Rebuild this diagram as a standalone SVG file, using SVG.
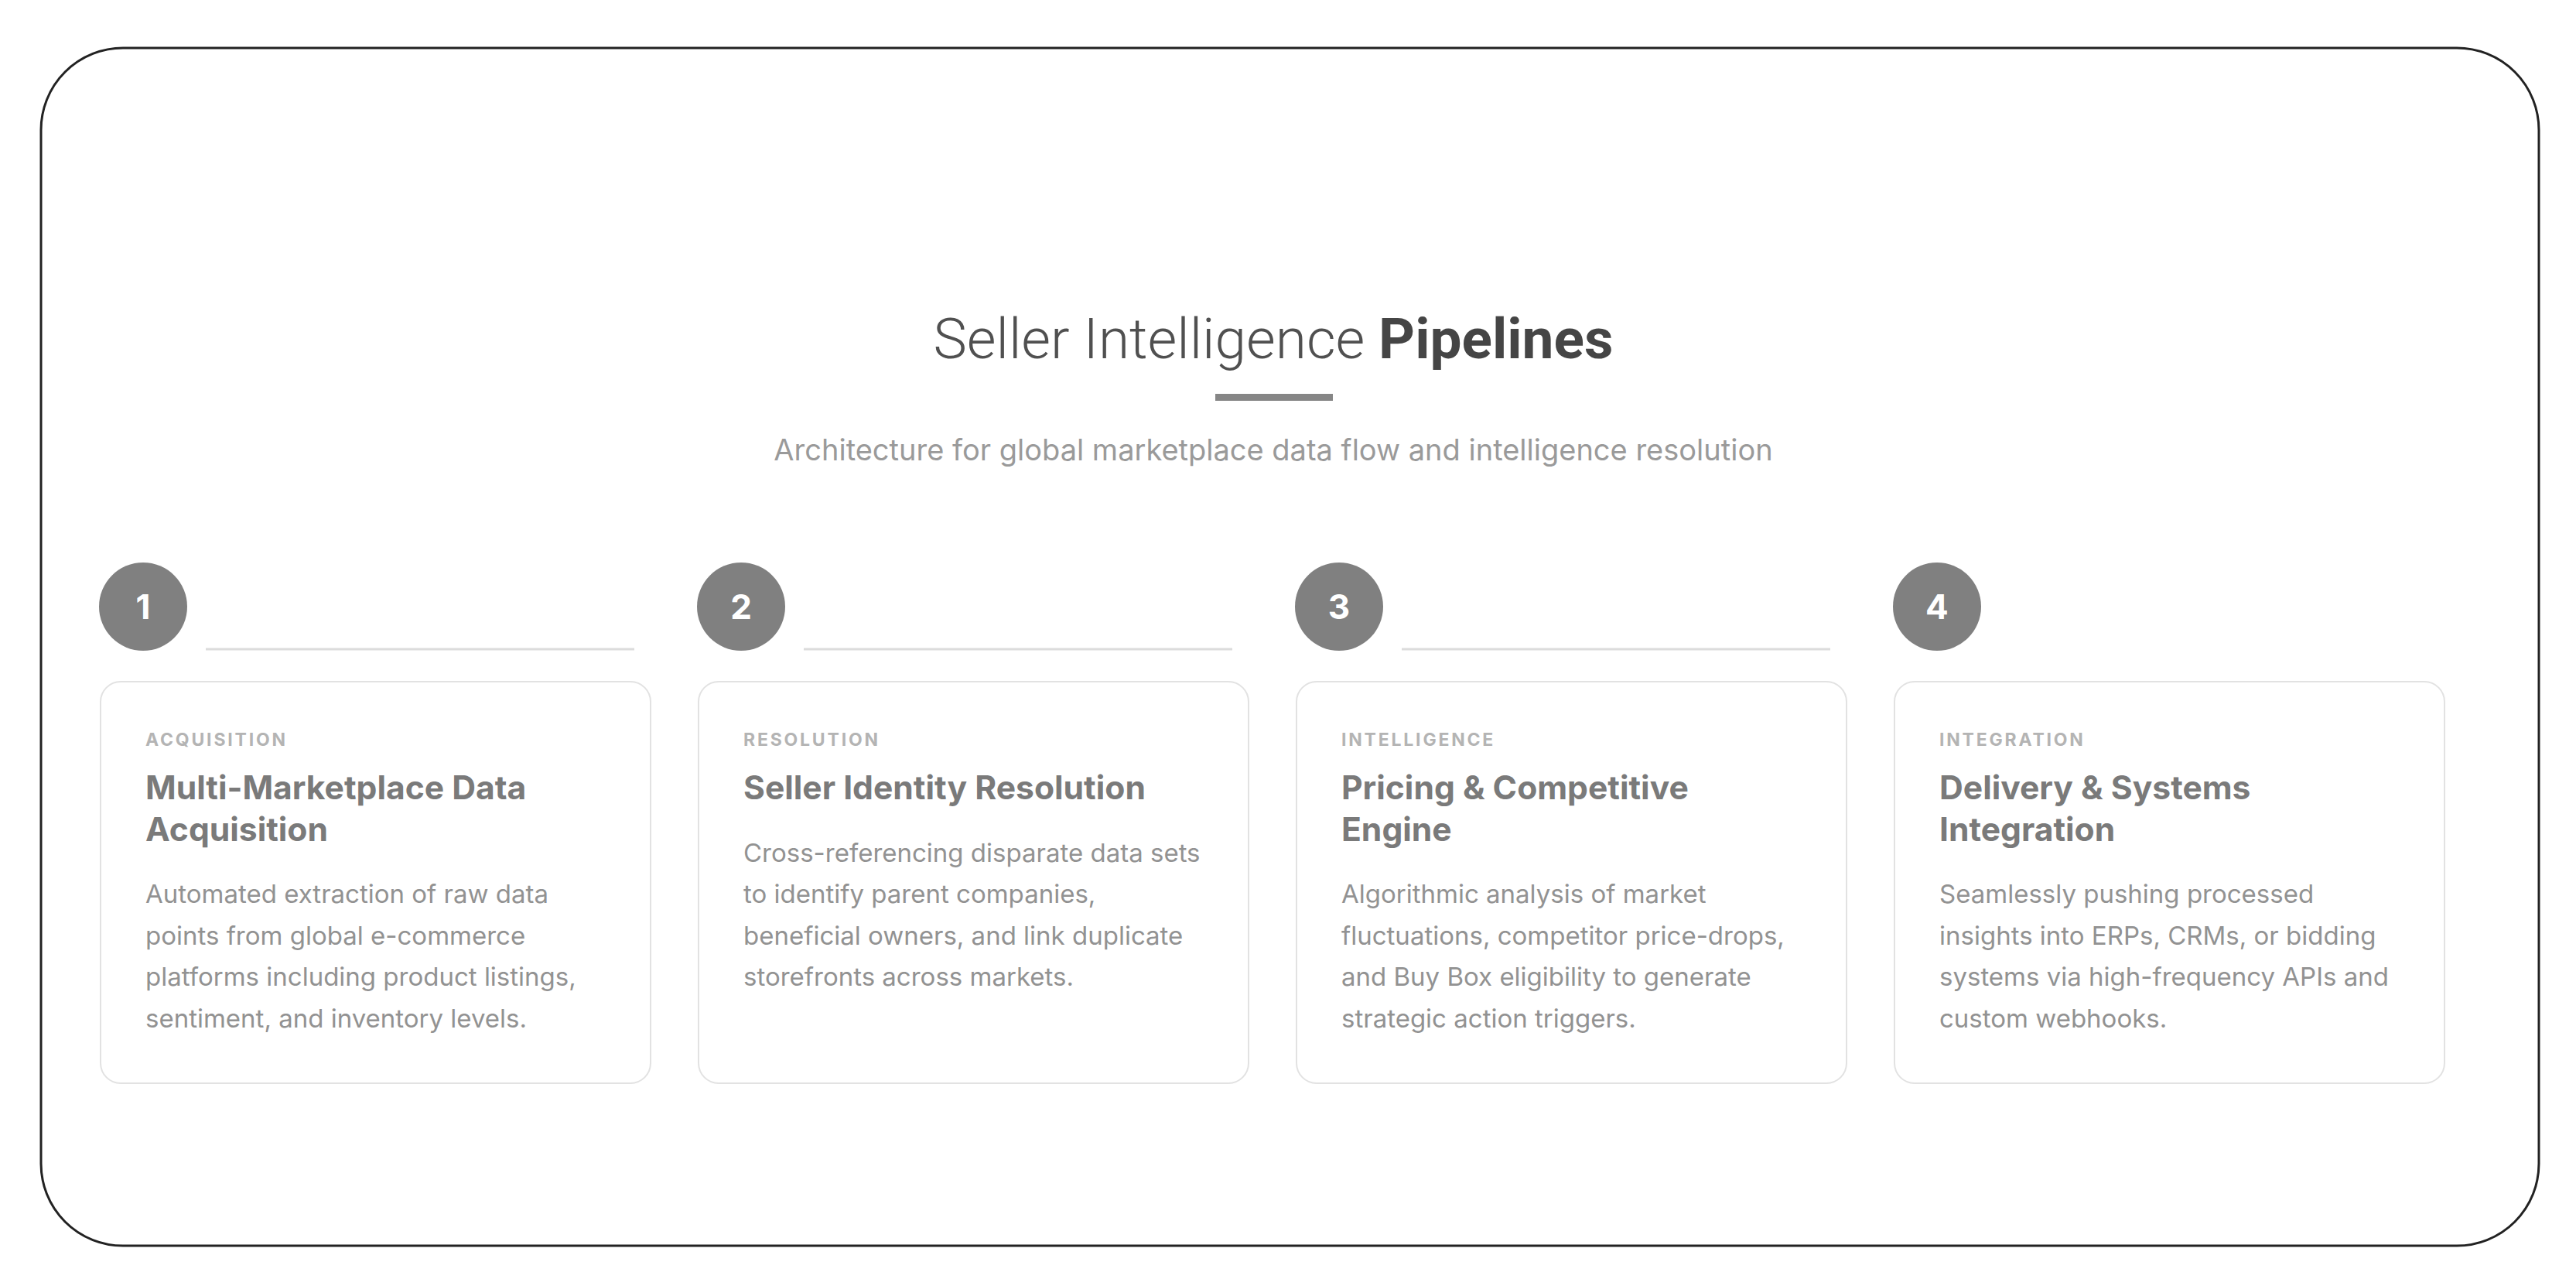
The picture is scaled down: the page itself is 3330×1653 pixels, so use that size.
<svg xmlns="http://www.w3.org/2000/svg" width="3330" height="1653" viewBox="0 0 3330 1653">
  <style>
    .frame { fill: #ffffff; stroke: #222222; stroke-width: 3; }
    .card { fill: #ffffff; stroke: #e2e2e2; stroke-width: 2; }
    .badge { fill: #808080; }
    .num { font-family: Inter, "Liberation Sans", sans-serif; font-weight: 700; font-size: 44px; fill: #ffffff; text-anchor: middle; }
    .track { stroke: #dcdcdc; stroke-width: 3; fill: none; }
    .label { font-family: Inter, "Liberation Sans", sans-serif; font-weight: 700; font-size: 23px; letter-spacing: 2.8px; fill: #b4b4b4; }
    .ctitle { font-family: Inter, "Liberation Sans", sans-serif; font-weight: 700; font-size: 42.6px; fill: #7a7a7a; }
    .body { font-family: Inter, "Liberation Sans", sans-serif; font-weight: 400; font-size: 33px; fill: #929292; }
    .title { font-family: Roboto, Inter, "Liberation Sans", sans-serif; font-size: 73px; fill: #4a4a4a; text-anchor: middle; }
    .subtitle { font-family: Inter, "Liberation Sans", sans-serif; font-size: 38px; fill: #9a9a9a; text-anchor: middle; }
  </style>
  <rect width="3330" height="1653" fill="#ffffff"/>
  <rect id="frame" class="frame" x="53" y="62" width="3229" height="1548" rx="106" ry="106"/>

  <g id="header">
    <text class="title" x="1646" y="463"><tspan font-weight="300" fill="#505050">Seller Intelligence </tspan><tspan font-weight="700" fill="#454545">Pipelines</tspan></text>
    <rect x="1571" y="509" width="152" height="9" fill="#868686"/>
    <text class="subtitle" x="1646" y="595">Architecture for global marketplace data flow and intelligence resolution</text>
  </g>

  <g id="connectors">
    <line class="track" x1="266" y1="839" x2="820" y2="839"/>
    <line class="track" x1="1039" y1="839" x2="1593" y2="839"/>
    <line class="track" x1="1812" y1="839" x2="2366" y2="839"/>
  </g>

  <g id="step1">
    <circle class="badge" cx="185" cy="784" r="57"/>
    <text class="num" x="185" y="800">1</text>
    <rect class="card" x="130" y="881" width="711" height="519" rx="26"/>
    <text class="label" x="188" y="964">ACQUISITION</text>
    <text class="ctitle" x="188" y="1033">Multi-Marketplace Data</text>
    <text class="ctitle" x="188" y="1087">Acquisition</text>
    <text class="body" x="188" y="1167">Automated extraction of raw data</text>
    <text class="body" x="188" y="1221">points from global e-commerce</text>
    <text class="body" x="188" y="1274">platforms including product listings,</text>
    <text class="body" x="188" y="1328">sentiment, and inventory levels.</text>
  </g>

  <g id="step2">
    <circle class="badge" cx="958" cy="784" r="57"/>
    <text class="num" x="958" y="800">2</text>
    <rect class="card" x="903" y="881" width="711" height="519" rx="26"/>
    <text class="label" x="961" y="964">RESOLUTION</text>
    <text class="ctitle" x="961" y="1033">Seller Identity Resolution</text>
    <text class="body" x="961" y="1114">Cross-referencing disparate data sets</text>
    <text class="body" x="961" y="1167">to identify parent companies,</text>
    <text class="body" x="961" y="1221">beneficial owners, and link duplicate</text>
    <text class="body" x="961" y="1274">storefronts across markets.</text>
  </g>

  <g id="step3">
    <circle class="badge" cx="1731" cy="784" r="57"/>
    <text class="num" x="1731" y="800">3</text>
    <rect class="card" x="1676" y="881" width="711" height="519" rx="26"/>
    <text class="label" x="1734" y="964">INTELLIGENCE</text>
    <text class="ctitle" x="1734" y="1033">Pricing &amp; Competitive</text>
    <text class="ctitle" x="1734" y="1087">Engine</text>
    <text class="body" x="1734" y="1167">Algorithmic analysis of market</text>
    <text class="body" x="1734" y="1221">fluctuations, competitor price-drops,</text>
    <text class="body" x="1734" y="1274">and Buy Box eligibility to generate</text>
    <text class="body" x="1734" y="1328">strategic action triggers.</text>
  </g>

  <g id="step4">
    <circle class="badge" cx="2504" cy="784" r="57"/>
    <text class="num" x="2504" y="800">4</text>
    <rect class="card" x="2449" y="881" width="711" height="519" rx="26"/>
    <text class="label" x="2507" y="964">INTEGRATION</text>
    <text class="ctitle" x="2507" y="1033">Delivery &amp; Systems</text>
    <text class="ctitle" x="2507" y="1087">Integration</text>
    <text class="body" x="2507" y="1167">Seamlessly pushing processed</text>
    <text class="body" x="2507" y="1221">insights into ERPs, CRMs, or bidding</text>
    <text class="body" x="2507" y="1274">systems via high-frequency APIs and</text>
    <text class="body" x="2507" y="1328">custom webhooks.</text>
  </g>
</svg>
